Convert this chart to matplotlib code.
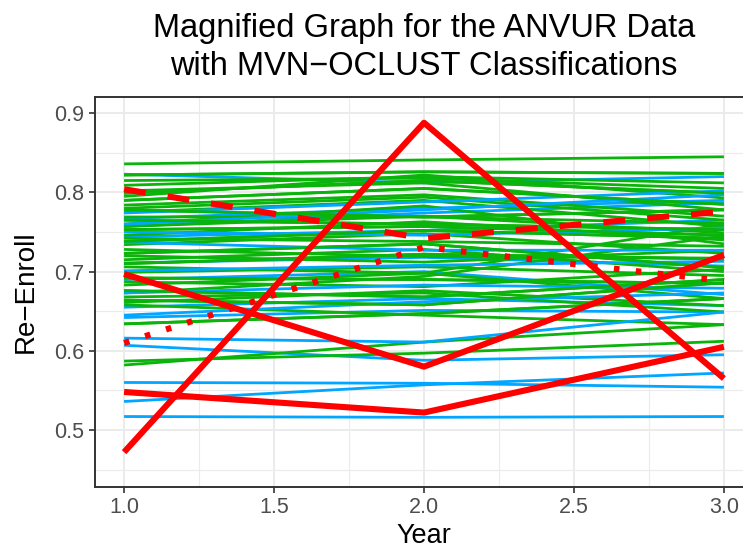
import matplotlib
matplotlib.use("Agg")
import matplotlib.pyplot as plt
from matplotlib.ticker import MultipleLocator

plt.rcParams['font.family'] = ['Liberation Sans', 'DejaVu Sans']

years = [1, 2, 3]

# green-class trajectories (Re-Enroll at years 1, 2, 3)
green_lines = [
    [0.836, 0.841, 0.845],
    [0.822, 0.826, 0.824],
    [0.815, 0.818, 0.805],
    [0.809, 0.820, 0.812],
    [0.799, 0.815, 0.799],
    [0.795, 0.822, 0.793],
    [0.802, 0.812, 0.778],
    [0.790, 0.805, 0.785],
    [0.784, 0.797, 0.770],
    [0.780, 0.794, 0.765],
    [0.778, 0.769, 0.778],
    [0.775, 0.790, 0.757],
    [0.769, 0.769, 0.761],
    [0.765, 0.760, 0.753],
    [0.760, 0.783, 0.735],
    [0.757, 0.770, 0.749],
    [0.753, 0.757, 0.746],
    [0.746, 0.763, 0.740],
    [0.742, 0.738, 0.732],
    [0.738, 0.752, 0.742],
    [0.734, 0.748, 0.723],
    [0.728, 0.719, 0.717],
    [0.723, 0.735, 0.705],
    [0.720, 0.712, 0.727],
    [0.715, 0.728, 0.700],
    [0.710, 0.722, 0.716],
    [0.706, 0.698, 0.760],
    [0.699, 0.706, 0.695],
    [0.692, 0.690, 0.685],
    [0.687, 0.681, 0.703],
    [0.683, 0.698, 0.666],
    [0.676, 0.668, 0.690],
    [0.673, 0.694, 0.745],
    [0.668, 0.673, 0.649],
    [0.664, 0.658, 0.686],
    [0.661, 0.676, 0.657],
    [0.658, 0.645, 0.633],
    [0.634, 0.647, 0.666],
    [0.587, 0.597, 0.612],
    [0.582, 0.611, 0.633],
]

# blue-class trajectories
blue_lines = [
    [0.823, 0.812, 0.820],
    [0.774, 0.788, 0.802],
    [0.767, 0.780, 0.790],
    [0.760, 0.778, 0.797],
    [0.757, 0.774, 0.787],
    [0.750, 0.746, 0.755],
    [0.744, 0.752, 0.765],
    [0.737, 0.727, 0.727],
    [0.711, 0.718, 0.707],
    [0.701, 0.708, 0.713],
    [0.690, 0.700, 0.671],
    [0.673, 0.683, 0.679],
    [0.655, 0.666, 0.657],
    [0.645, 0.662, 0.673],
    [0.642, 0.651, 0.649],
    [0.616, 0.611, 0.649],
    [0.607, 0.588, 0.595],
    [0.560, 0.559, 0.554],
    [0.536, 0.557, 0.572],
    [0.517, 0.516, 0.517],
]

# red (outlier / mean) trajectories
red_solid = [
    [0.472, 0.888, 0.565],
    [0.697, 0.580, 0.721],
    [0.548, 0.522, 0.605],
]
red_dashed = [0.804, 0.742, 0.776]
red_dotted = [0.610, 0.731, 0.688]

GREEN = '#0AB40A'
BLUE = '#00A6FF'
RED = '#FF0000'

fig = plt.figure(figsize=(7.43, 5.55), dpi=100)
ax = fig.add_axes([95 / 743, 68 / 555, 658 / 743, 390 / 555])

for ys in blue_lines[::2]:
    ax.plot(years, ys, color=BLUE, lw=2.0, solid_capstyle='butt', zorder=3)
for ys in green_lines:
    ax.plot(years, ys, color=GREEN, lw=2.0, solid_capstyle='butt', zorder=3.2)
for ys in blue_lines[1::2]:
    ax.plot(years, ys, color=BLUE, lw=2.0, solid_capstyle='butt', zorder=3.4)
for ys in green_lines[1::3]:
    ax.plot(years, ys, color=GREEN, lw=2.0, solid_capstyle='butt', zorder=3.6)

for ys in red_solid:
    ax.plot(years, ys, color=RED, lw=4.4, solid_capstyle='butt', zorder=5)
ax.plot(years, red_dashed, color=RED, lw=4.4, dashes=(3.6, 3.6), dash_capstyle='butt', zorder=5)
ax.plot(years, red_dotted, color=RED, lw=4.4, dashes=(0.9, 2.7), dash_capstyle='butt', zorder=5)

ax.set_xlim(0.903, 3.097)
ax.set_ylim(0.428, 0.9205)
ax.xaxis.set_minor_locator(MultipleLocator(0.25))
ax.yaxis.set_minor_locator(MultipleLocator(0.05))
ax.set_xticks([1.0, 1.5, 2.0, 2.5, 3.0])
ax.set_xticklabels(['1.0', '1.5', '2.0', '2.5', '3.0'])
ax.set_yticks([0.5, 0.6, 0.7, 0.8, 0.9])
ax.set_yticklabels(['0.5', '0.6', '0.7', '0.8', '0.9'])

ax.grid(which='major', color='#EBEBEB', lw=1.4, zorder=0)
ax.grid(which='minor', color='#EBEBEB', lw=0.8, zorder=0)
ax.set_axisbelow(True)
ax.tick_params(which='minor', length=0)
ax.tick_params(which='major', length=4.5, width=1.2, color='#333333',
               labelsize=15.5, labelcolor='#4D4D4D', pad=3)
for s in ax.spines.values():
    s.set_color('#333333')
    s.set_linewidth(1.4)

ax.set_xlabel('Year', fontsize=19.5, labelpad=3)
ax.set_ylabel('Re\u2212Enroll', fontsize=20, labelpad=11)
ax.set_title('Magnified Graph for the ANVUR Data\nwith MVN\u2212OCLUST Classifications',
             fontsize=23.5, pad=16, linespacing=1.3)

fig.savefig('out.png', dpi=100)
